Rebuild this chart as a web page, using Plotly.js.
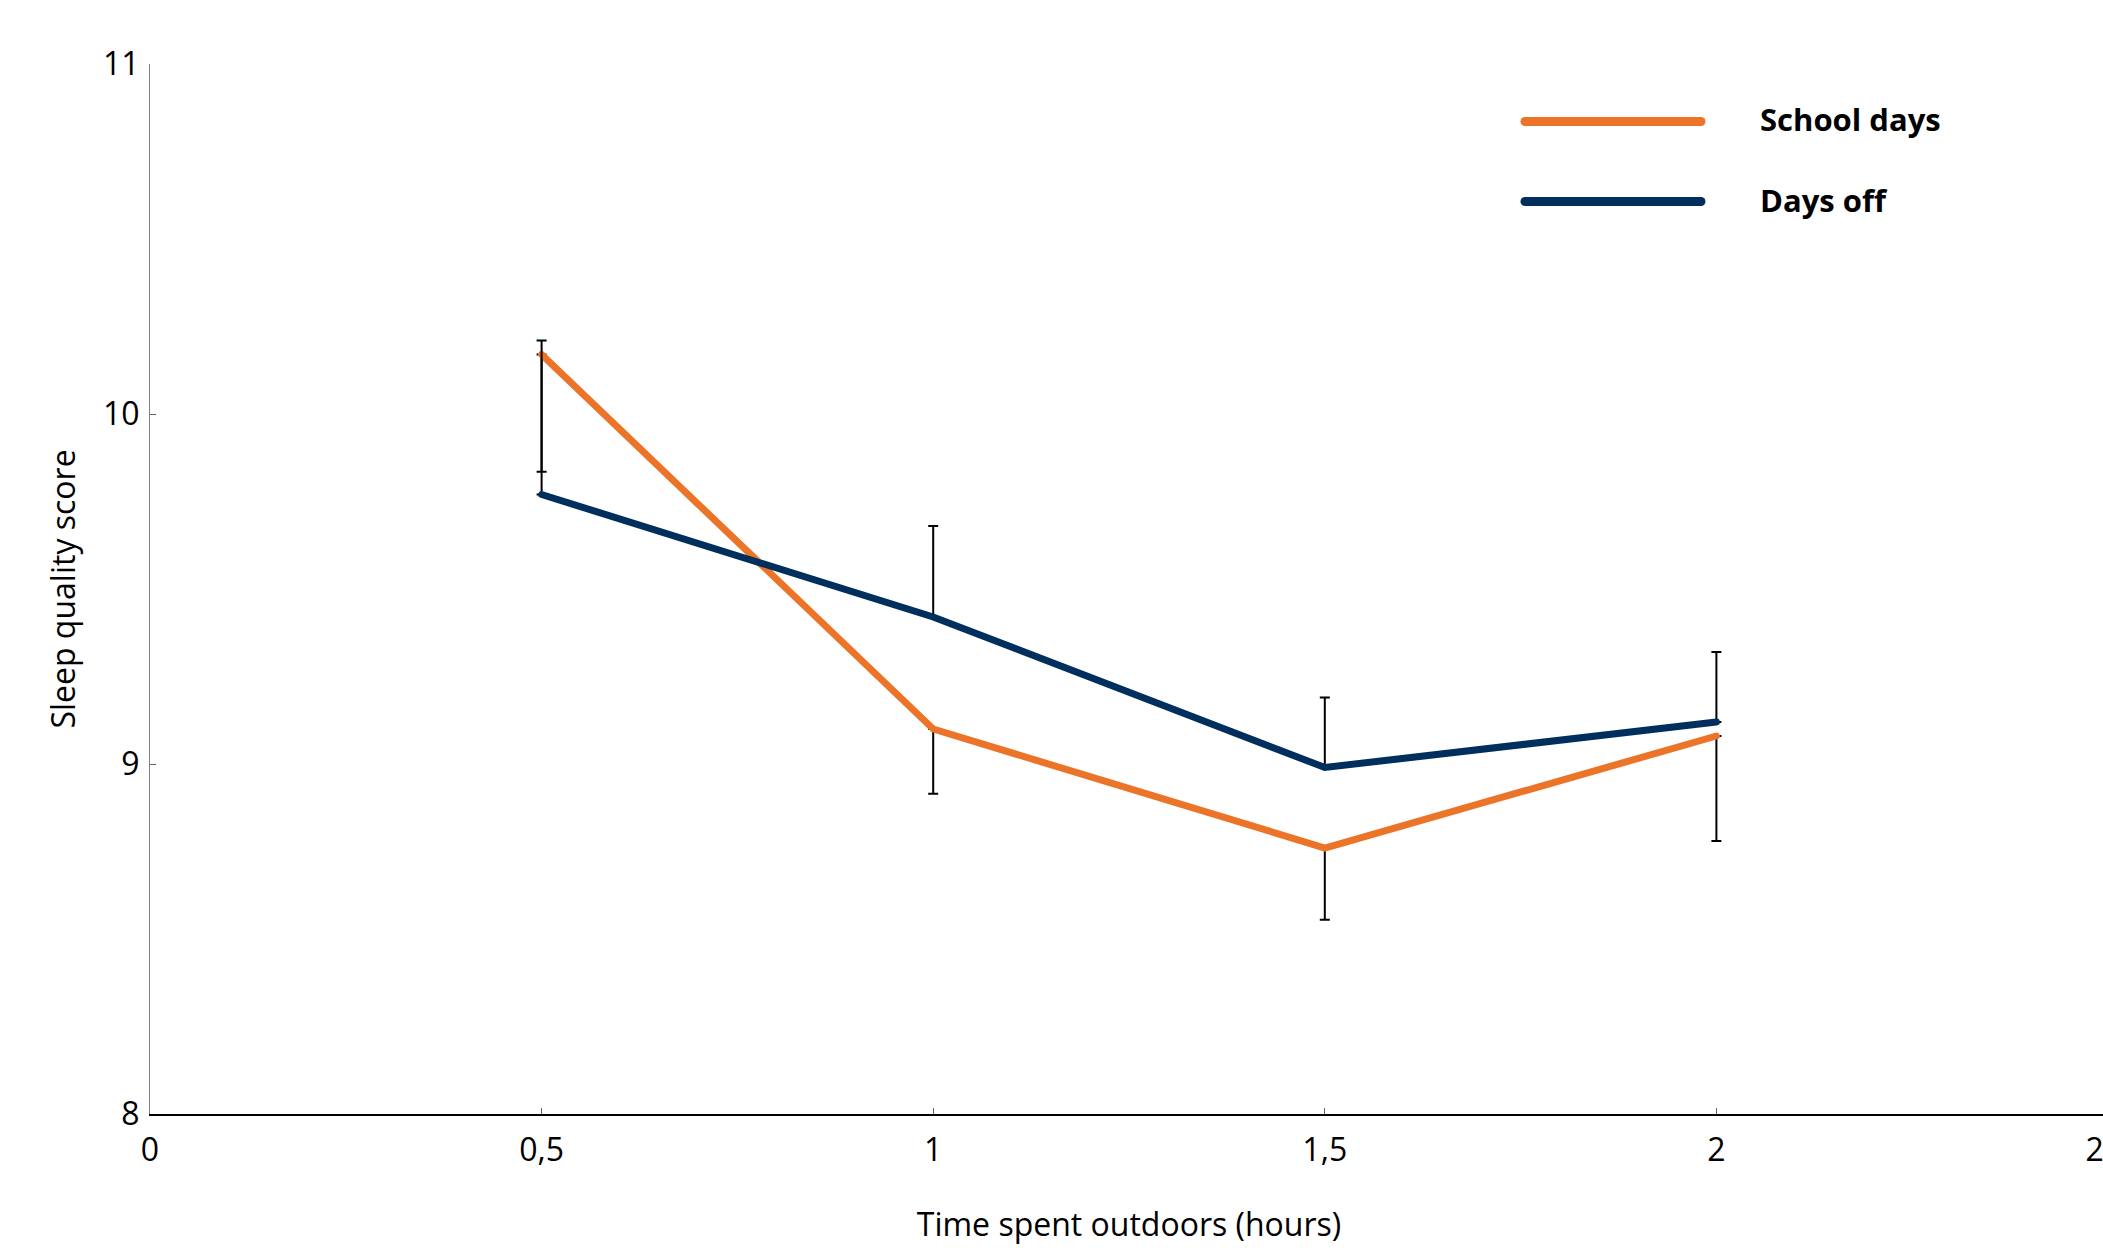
<!DOCTYPE html>
<html>
<head>
<meta charset="utf-8">
<script src="https://cdn.plot.ly/plotly-3.0.1.min.js"></script>
<style>
html,body{margin:0;padding:0;overflow:hidden;background:#fff;}
#chart{width:2113px;height:1248px;}
.scatterlayer .js-line{stroke-linecap:round;}
.shapelayer path{stroke-linecap:round;}
</style>
</head>
<body>
<div id="chart"></div>
<script>
// ---- data ----
const hours = [0.5, 1, 1.5, 2];
const seriesNames = ['School days', 'Days off'];
const schoolDays = [10.17, 9.10, 8.76, 9.08];
const schoolDaysErrPlus = [0, 0, 0, 0];
const schoolDaysErrMinus = [0.335, 0.185, 0.205, 0.30];
const daysOff = [9.77, 9.42, 8.99, 9.12];
const daysOffErrPlus = [0.44, 0.26, 0.20, 0.20];
const daysOffErrMinus = [0, 0, 0, 0];
const xTickVals = [0, 0.5, 1, 1.5, 2, 2.5];
const xTickText = ['0', '0,5', '1', '1,5', '2', '2,5'];
const yTickVals = [8, 9, 10, 11];
const yTickText = ['8', '9', '10', '11'];
const xTitle = 'Time spent outdoors (hours)';
const yTitle = 'Sleep quality score';
const colors = ['#EC7429', '#002E5D'];

// ---- layout geometry ----
const W = 2113, H = 1248;
const M = {l: 150, r: 5, t: 64, b: 134};
const px2x = p => (p - M.l) / (W - M.l - M.r);
const py2y = p => (H - M.b - p) / (H - M.t - M.b);
const FONT = '"Open Sans", sans-serif';

const errStyle = {type: 'data', symmetric: false, color: '#000', thickness: 2, width: 5};

const traces = [
  {
    x: hours, y: schoolDays, name: seriesNames[0], type: 'scatter', mode: 'lines',
    line: {color: colors[0], width: 7},
    error_y: Object.assign({array: schoolDaysErrPlus, arrayminus: schoolDaysErrMinus}, errStyle)
  },
  {
    x: hours, y: daysOff, name: seriesNames[1], type: 'scatter', mode: 'lines',
    line: {color: colors[1], width: 7},
    error_y: Object.assign({array: daysOffErrPlus, arrayminus: daysOffErrMinus}, errStyle)
  }
];

const legendRows = [121.5, 201.5];
const shapes = seriesNames.map((n, i) => ({
  type: 'line', xref: 'paper', yref: 'paper',
  x0: px2x(1525), x1: px2x(1701), y0: py2y(legendRows[i]), y1: py2y(legendRows[i]),
  line: {color: colors[i], width: 9}, layer: 'above'
}));
const annotations = seriesNames.map((n, i) => ({
  xref: 'paper', yref: 'paper', x: px2x(1758), y: py2y(legendRows[i] - 2),
  xanchor: 'left', yanchor: 'middle', showarrow: false,
  text: n, font: {family: FONT, size: 31, weight: 'bold', color: '#000'}
}));

const layout = {
  width: W, height: H,
  margin: M,
  paper_bgcolor: '#fff', plot_bgcolor: '#fff',
  showlegend: false,
  font: {family: FONT, size: 32, color: '#000'},
  xaxis: {
    range: [0, 2.5], tickmode: 'array', tickvals: xTickVals, ticktext: xTickText,
    showline: true, linecolor: '#000', linewidth: 2,
    ticks: 'inside', ticklen: 6, tickwidth: 1, tickcolor: '#666',
    showgrid: false, zeroline: false, ticklabelstandoff: 7, ticklabeloverflow: 'allow',
    title: {text: xTitle, standoff: 44, font: {size: 32}}
  },
  yaxis: {
    range: [8, 11], tickmode: 'array', tickvals: yTickVals, ticktext: yTickText,
    showline: true, linecolor: '#808080', linewidth: 1,
    ticks: 'inside', ticklen: 6, tickwidth: 1, tickcolor: '#666',
    showgrid: false, zeroline: false, ticklabelstandoff: 3,
    title: {text: yTitle, standoff: 17, font: {size: 32}}
  },
  shapes: shapes,
  annotations: annotations
};

Plotly.newPlot('chart', traces, layout, {staticPlot: true, displayModeBar: false});
</script>
</body>
</html>
